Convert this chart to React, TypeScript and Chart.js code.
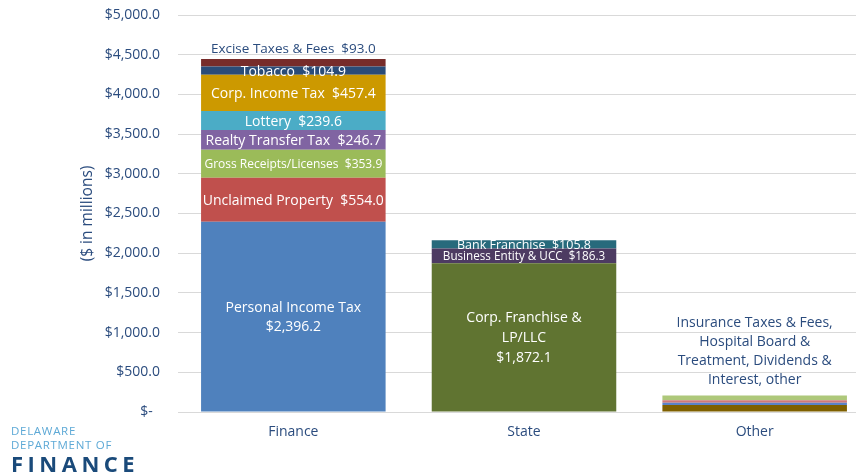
import React, { useEffect, useRef } from "react";
import { Chart, registerables } from "chart.js";

Chart.register(...registerables);

const categories = ["Finance", "State", "Other"];

const financeNames = [
  "Personal Income Tax",
  "Unclaimed Property",
  "Gross Receipts/Licenses",
  "Realty Transfer Tax",
  "Lottery",
  "Corp. Income Tax",
  "Tobacco",
  "Excise Taxes & Fees",
];
const financeValues = [2396.2, 554.0, 353.9, 246.7, 239.6, 457.4, 104.9, 93.0];

const stateNames = ["Corp. Franchise & LP/LLC", "Business Entity & UCC", "Bank Franchise"];
const stateValues = [1872.1, 186.3, 105.8];

const otherNames = ["Other 1", "Other 2", "Other 3", "Other 4"];
const otherValues = [88, 28, 33, 59];
const otherLabelLines = ["Insurance Taxes & Fees,", "Hospital Board &", "Treatment, Dividends &", "Interest, other"];

const yTickValues = [0, 500, 1000, 1500, 2000, 2500, 3000, 3500, 4000, 4500, 5000];

// ---- styles (kept separate from data) ----
const financeColors = ["#4F81BD", "#C0504D", "#9BBB59", "#8064A2", "#4BACC6", "#CC9900", "#2A4C78", "#772C2A"];
const stateColors = ["#607431", "#4D3B62", "#276A7C"];
const otherColors = ["#7F6000", "#5A82C8", "#D07A7A", "#AEC87A"];

const TEXT_BLUE = "#2B4C7E";
const FONT = "'Open Sans', sans-serif";

const fmt = (v: number) => "$" + v.toLocaleString("en-US", { minimumFractionDigits: 1, maximumFractionDigits: 1 });

type LabelSpec = { lines: string[]; size: number; color: string; above?: number; lineH?: number };

function financeLabel(i: number): LabelSpec {
  const n = financeNames[i];
  const v = fmt(financeValues[i]);
  if (i === 0) return { lines: [n, v], size: 14, color: "#fff", lineH: 19 };
  if (i === 2) return { lines: [n + "  " + v], size: 12, color: "#fff" };
  if (i === 7) return { lines: [n + "  " + v], size: 13.5, color: TEXT_BLUE, above: 10 };
  return { lines: [n + "  " + v], size: 14, color: "#fff" };
}
function stateLabel(i: number): LabelSpec {
  const v = fmt(stateValues[i]);
  if (i === 0) return { lines: ["Corp. Franchise &", "LP/LLC", v], size: 14, color: "#fff", lineH: 20 };
  if (i === 1) return { lines: [stateNames[i] + "  " + v], size: 11.7, color: "#fff" };
  return { lines: [stateNames[i] + "  " + v], size: 12.5, color: "#fff" };
}

const labelPlugin = {
  id: "segLabels",
  afterDatasetsDraw(chart: any) {
    const ctx = chart.ctx as CanvasRenderingContext2D;
    ctx.save();
    ctx.textAlign = "center";
    ctx.textBaseline = "middle";
    chart.data.datasets.forEach((ds: any, i: number) => {
      const spec: LabelSpec | undefined = ds.labelSpec;
      if (!spec) return;
      const meta = chart.getDatasetMeta(i);
      const el = meta.data[ds.catIndex];
      if (!el) return;
      const { x, y, base } = el.getProps(["x", "y", "base"], true);
      const lh = spec.lineH ?? spec.size * 1.4;
      const n = spec.lines.length;
      let cy: number;
      if (spec.above !== undefined) {
        cy = y - spec.above - ((n - 1) * lh) / 2;
      } else {
        cy = (y + base) / 2 + 1;
      }
      ctx.fillStyle = spec.color;
      ctx.font = `${spec.size}px ${FONT}`;
      spec.lines.forEach((line, k) => {
        ctx.fillText(line, x, cy + (k - (n - 1) / 2) * lh);
      });
    });
    // y-axis title
    const area = chart.chartArea;
    ctx.translate(88, (area.top + area.bottom) / 2);
    ctx.rotate(-Math.PI / 2);
    ctx.fillStyle = TEXT_BLUE;
    ctx.font = `15.5px ${FONT}`;
    ctx.fillText("($ in millions)", 0, 0);
    ctx.restore();
  },
};

function oneCat(idx: number, v: number) {
  return categories.map((_, k) => (k === idx ? v : null));
}

export default function App() {
  const canvasRef = useRef<HTMLCanvasElement | null>(null);

  useEffect(() => {
    if (!canvasRef.current) return;
    const datasets: any[] = [];
    financeValues.forEach((v, i) =>
      datasets.push({
        label: financeNames[i],
        data: oneCat(0, v),
        backgroundColor: financeColors[i],
        catIndex: 0,
        labelSpec: financeLabel(i),
      })
    );
    stateValues.forEach((v, i) =>
      datasets.push({
        label: stateNames[i],
        data: oneCat(1, v),
        backgroundColor: stateColors[i],
        catIndex: 1,
        labelSpec: stateLabel(i),
      })
    );
    otherValues.forEach((v, i) =>
      datasets.push({
        label: otherNames[i],
        data: oneCat(2, v),
        backgroundColor: otherColors[i],
        catIndex: 2,
        labelSpec:
          i === otherValues.length - 1
            ? { lines: otherLabelLines, size: 14, color: TEXT_BLUE, above: 15, lineH: 19.3 }
            : undefined,
      })
    );

    const chart = new Chart(canvasRef.current, {
      type: "bar",
      data: { labels: categories, datasets },
      options: {
        animation: false,
        responsive: false,
        layout: { padding: { top: 15, right: 2, left: 0, bottom: 0 } },
        datasets: { bar: { barPercentage: 0.8, categoryPercentage: 1 } } as any,
        plugins: { legend: { display: false }, tooltip: { enabled: false } },
        scales: {
          x: {
            stacked: true,
            grid: { display: false, drawTicks: false },
            border: { display: true, color: "#D9D9D9" },
            ticks: { color: TEXT_BLUE, font: { family: FONT, size: 14 }, padding: 12 },
            afterFit: (s: any) => {
              s.height = 64;
              s.paddingLeft = 0;
              s.paddingRight = 0;
            },
          },
          y: {
            stacked: true,
            min: 0,
            max: 5000,
            afterBuildTicks: (s: any) => {
              s.ticks = yTickValues.map((v) => ({ value: v }));
            },
            grid: { color: "#D9D9D9", drawTicks: false },
            border: { display: false },
            ticks: {
              color: TEXT_BLUE,
              font: { family: FONT, size: 14 },
              padding: 18,
              callback: (v: any) => (Number(v) === 0 ? "$-  " : fmt(Number(v))),
            },
            afterFit: (s: any) => {
              s.width = 178;
              s.paddingTop = 0;
              s.paddingBottom = 0;
            },
          },
        },
      },
      plugins: [labelPlugin],
    });
    return () => chart.destroy();
  }, []);

  return (
    <div
      style={{
        position: "fixed",
        left: 0,
        top: 0,
        width: 856,
        height: 476,
        overflow: "hidden",
        background: "#fff",
      }}
    >
      <canvas ref={canvasRef} width={872} height={476} style={{ position: "absolute", left: 0, top: 0 }} />
      <div
        style={{
          position: "absolute",
          left: 11,
          top: 424,
          fontFamily: FONT,
          fontSize: 11.5,
          lineHeight: "14px",
          color: "#5DA9D6",
          letterSpacing: 0.7,
        }}
      >
        <div>DELAWARE</div>
        <div>DEPARTMENT OF</div>
      </div>
      <div
        style={{
          position: "absolute",
          left: 11,
          top: 451,
          fontFamily: FONT,
          fontSize: 22,
          fontWeight: 700,
          lineHeight: "24px",
          color: "#1A4A7A",
          letterSpacing: 4.5,
        }}
      >
        FINANCE
      </div>
    </div>
  );
}
